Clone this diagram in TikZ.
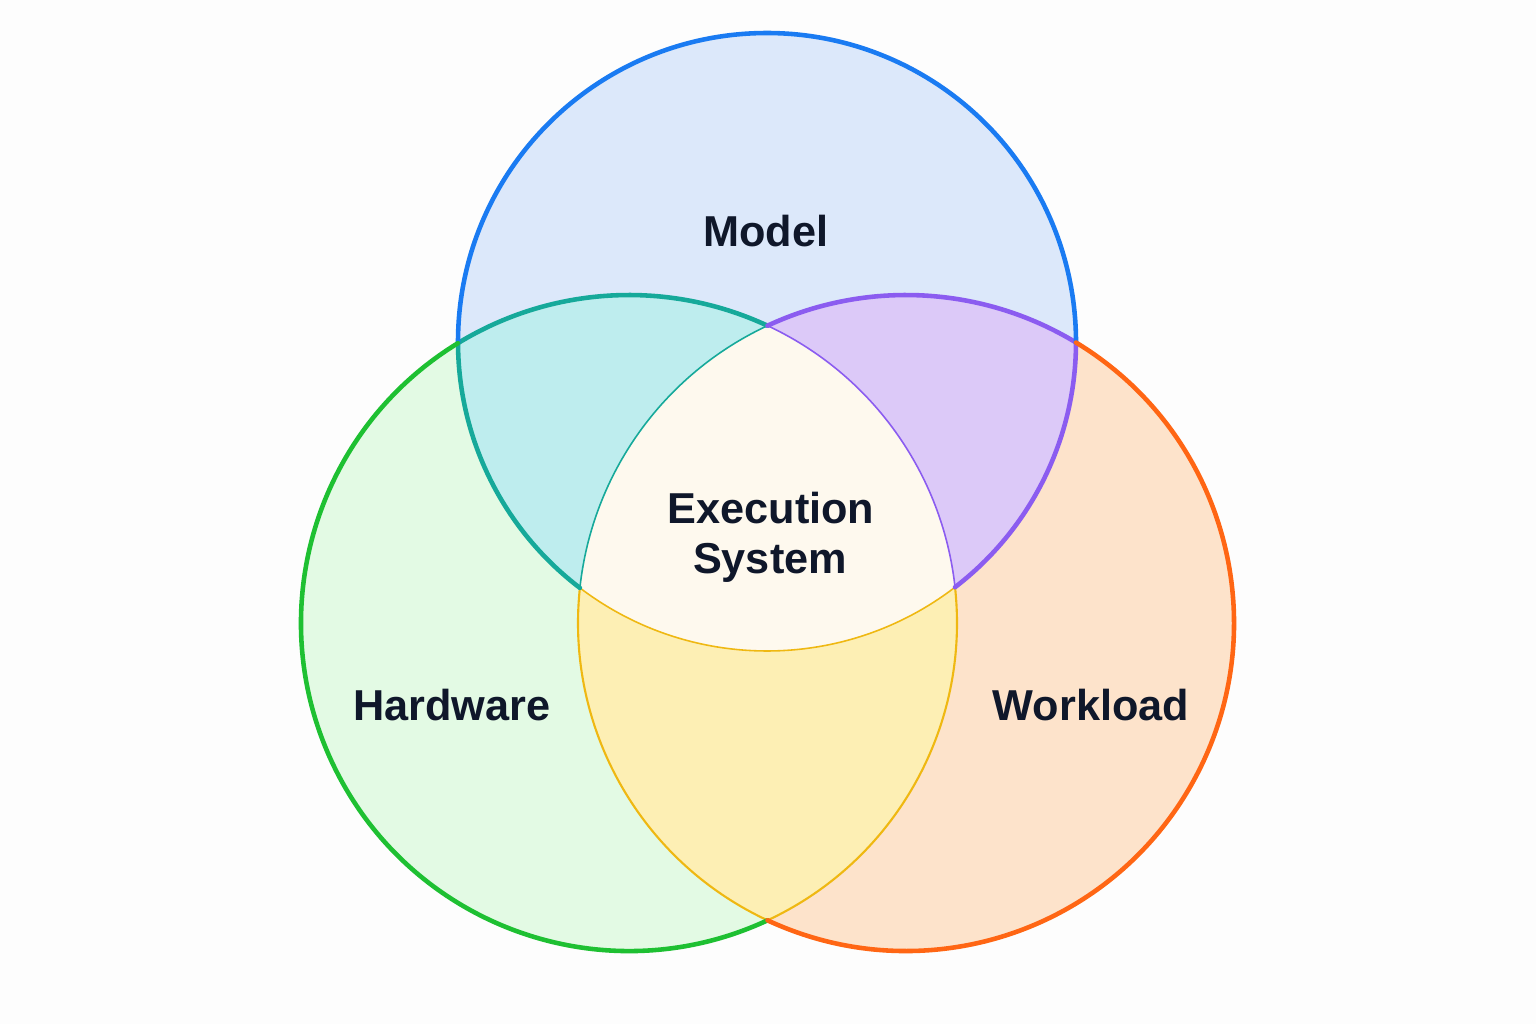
\documentclass[tikz,border=0pt]{standalone}
\usepackage{fontspec}
\setmainfont{Liberation Sans}
\definecolor{bgc}{HTML}{FDFDFD}
\definecolor{modelline}{HTML}{1A7BF2}
\definecolor{modelfill}{HTML}{DCE8FA}
\definecolor{hardline}{HTML}{1EC032}
\definecolor{hardfill}{HTML}{E3FAE4}
\definecolor{workline}{HTML}{FF6614}
\definecolor{workfill}{HTML}{FDE3CB}
\definecolor{mhfill}{HTML}{BEEDEE}
\definecolor{mhline}{HTML}{16A99A}
\definecolor{mwfill}{HTML}{DCC9F8}
\definecolor{mwline}{HTML}{8B5CF0}
\definecolor{hwfill}{HTML}{FDEFB4}
\definecolor{hwline}{HTML}{EFB812}
\definecolor{centerfill}{HTML}{FEF9EE}
\definecolor{labeltext}{HTML}{0F172A}
\begin{document}
\begin{tikzpicture}[x=0.01cm, y=-0.01cm, line cap=round, line join=round,
	lbl/.style={font=\fontsize{12.3}{14}\selectfont\bfseries, text=labeltext, anchor=base, inner sep=0pt},
	rim/.style={line width=1.3pt},
	seam/.style={line width=0.45pt},
	rimthin/.style={line width=0.6pt}]
	\def\rM{309} \def\rH{328} \def\rW{328} % radii in px
	\coordinate (cM) at (767,342);
	\coordinate (cH) at (629,623);
	\coordinate (cW) at (906,623);
	\fill[bgc] (0,0) rectangle (1536,1024);
	% circles
	\fill[hardfill] (cH) circle (\rH);
	\fill[workfill] (cW) circle (\rW);
	\fill[modelfill] (cM) circle (\rM);
	% overlaps
	\begin{scope}
		\clip (cM) circle (\rM);
		\fill[mhfill] (cH) circle (\rH);
		\fill[mwfill] (cW) circle (\rW);
	\end{scope}
	\begin{scope}
		\clip (cH) circle (\rH);
		\fill[hwfill] (cW) circle (\rW);
		\clip (cW) circle (\rW);
		\fill[centerfill] (cM) circle (\rM);
	\end{scope}
	% inner seams
	\draw[hwline, seam] ([shift={(52.52:\rM)}]cM) arc[start angle=52.52, end angle=127.27, radius=\rM];
	\draw[mwline, seam] ([shift={(-65.02:\rH)}]cH) arc[start angle=-65.02, end angle=-6.27, radius=\rH];
	\draw[mhline, seam] ([shift={(-173.86:\rW)}]cW) arc[start angle=-173.86, end angle=-114.98, radius=\rW];
	% lens edges at the bottom
	\draw[hwline, rimthin] ([shift={(-6.27:\rH)}]cH) arc[start angle=-6.27, end angle=65.02, radius=\rH];
	\draw[hwline, rimthin] ([shift={(114.98:\rW)}]cW) arc[start angle=114.98, end angle=186.14, radius=\rW];
	% lens edges at the top
	\draw[mhline, rim] ([shift={(127.27:\rM)}]cM) arc[start angle=127.27, end angle=179.8, radius=\rM];
	\draw[mhline, rim] ([shift={(-121.42:\rH)}]cH) arc[start angle=-121.42, end angle=-65.02, radius=\rH];
	\draw[mwline, rim] ([shift={(0.09:\rM)}]cM) arc[start angle=0.09, end angle=52.52, radius=\rM];
	\draw[mwline, rim] ([shift={(-114.98:\rW)}]cW) arc[start angle=-114.98, end angle=-58.79, radius=\rW];
	% outer rims
	\draw[modelline, rim] ([shift={(179.8:\rM)}]cM) arc[start angle=179.8, end angle=360.09, radius=\rM];
	\draw[hardline, rim] ([shift={(65.02:\rH)}]cH) arc[start angle=65.02, end angle=238.58, radius=\rH];
	\draw[workline, rim] ([shift={(-58.79:\rW)}]cW) arc[start angle=-58.79, end angle=114.98, radius=\rW];
	% labels
	\node[lbl] (model) at (766,246) {Model};
	\node[lbl] (exec) at (771,523) {Execution};
	\node[lbl] (sys) at (770,573) {System};
	\node[lbl] (hard) at (452,720) {Hardware};
	\node[lbl] (work) at (1091,720) {Workload};
\end{tikzpicture}
\end{document}
